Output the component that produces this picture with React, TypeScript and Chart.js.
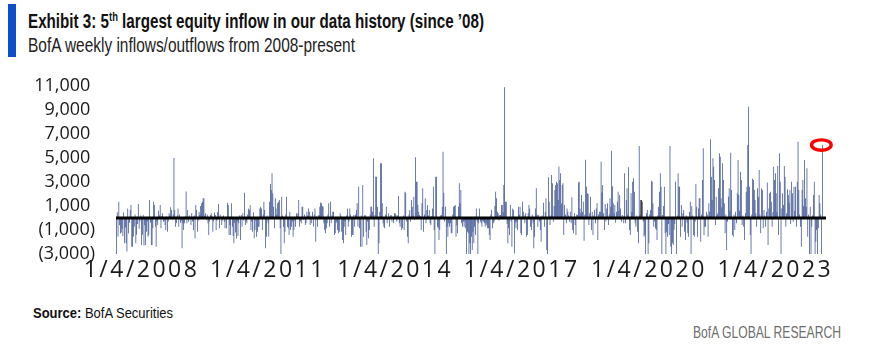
import React, { useEffect, useLayoutEffect, useRef } from 'react';
import { Chart, registerables } from 'chart.js';

Chart.register(...registerables);

// Weekly BofA equity flows, grouped by calendar year
const flows2007 = [-3400, 470, -1550, 1360, -600, -1300, -1200, -900, -1500, 450, -2100, -800, -2100, -2800, 800, -1300, -400, 670, 1080, -2400, -2400, -1550, -700, 300, -2100, -1400, -500, 1170, -900, -300, 200];
const flows2008 = [-2250, -1400, 250, -2300, -600, -2250, -1140, -300, -1560, -1420, 1500, -400, -2250, -2250, -860, 1360, 1080, -720, -2400, -300, -580, 610, 200, 1080, -860, 150, 390, -310, -200, -580, -1000, 100, -1140, -300, 390, 200, 890, 670, -150, 300, 5000, 670, -720, -440, 200, 800, -720, 300, -400, -200, -2530, -440];
const flows2009 = [-1000, -440, 150, 2200, -440, 670, -310, 200, -100, -580, 390, -300, -1000, 200, -1700, 1080, 670, -1140, -200, 530, 300, 1000, 1220, 1360, 1640, 1640, 200, 400, -170, 300, -440, -1420, -300, 250, 390, 150, -1140, -300, 450, 250, -1000, -200, 500, 1170, -860, 300, 110, -580, -200, 200, -310, -860, -150];
const flows2010 = [-860, 1280, 1080, -1420, -600, -1420, 1220, -720, -1500, -2100, -400, -1200, -1700, -300, -1500, -440, 200, -1830, 250, -720, 390, -200, 2100, -580, -300, -440, 300, 800, 670, 1080, -1000, -300, -1140, 470, -1690, -1000, -200, -1560, -1140, -720, -720, 800, 940, 800, -1000, 300, 1360, 670, -2530, -1560, 200, -400];
const flows2011 = [-1560, 1360, 2830, 2330, 3720, 2060, 940, -860, 1640, 800, 300, 1220, 1360, 1500, -860, -3400, 1780, 200, -720, -2110, -1140, 300, 1780, -720, -860, -1420, 530, -1000, -720, -300, -1560, -1000, -200, -720, 390, 200, 390, 1500, -720, -300, -440, 940, 940, -170, 300, -580, -440, 530, 200, 800, 530, -580];
const flows2012 = [200, -440, 530, -720, 300, 800, -1970, 110, -720, 200, 250, 940, 1300, 1220, 1000, 940, -440, -1000, -1280, -860, -440, 300, 1220, -720, 1360, -440, 200, 530, 530, -1420, -1280, -440, -300, -1000, -1280, -1140, 390, 200, -1140, -1830, -2110, -720, -300, -1420, 200, 800, -720, -300, 800, 300, -1560, -1420];
const flows2013 = [-1420, 250, -720, 300, 670, 1220, -720, 2610, -860, -2390, 200, -2390, 2750, -1560, 200, 250, -1140, -2250, -300, -1690, -1000, 300, 940, 940, 530, 4970, -720, 250, 3440, 3440, 940, -3400, -2110, 530, 4560, 4560, 1220, -440, -720, -860, 300, 940, -440, -170, 390, -720, 200, 250, -310, 110, -440, 390];
const flows2014 = [390, 250, -310, 200, 1830, -440, -720, 100, -1000, -860, 200, -1000, 2190, 2100, -300, -1560, -2110, 300, 670, -300, 1500, 940, 200, 1780, -170, 5060, 3030, 3030, 1080, 530, 250, 150, -1000, 1220, 2470, -1140, 300, 1640, -440, 670, 1080, 200, 670, -440, -580, 150, 800, 2610, -1000, -3400, 3440, 3440];
const flows2015 = [-720, -860, -1830, -1000, 200, 250, 940, 5530, 2100, -300, 940, -3400, -720, -1560, -440, -720, -440, -1280, -1280, 300, 940, 1000, 1080, -1560, -600, -1280, 940, 2890, 1220, 2330, -440, -720, -310, -720, -300, -860, -3400, -1140, -1280, -3400, -2110, -3400, -1560, -2670, -1140, -2110, -720, -1420, 800, -300, -3400, -440];
const flows2016 = [800, -300, -440, -720, -200, -310, -440, -720, -440, -600, -860, -860, -1420, -1830, 300, 670, -860, -440, -300, 1000, 2190, 1640, 530, 390, -200, 250, 250, 1080, 1080, 500, 2750, 10890, 1360, 1360, -500, -2110, -860, -1420, 1080, -300, -2390, 800, 670, -2950, -400, -860, -300, -1000, 940, 300, 940, -1280];
const flows2017 = [-1420, 1360, 530, 200, -440, 390, -1560, -1420, 400, 1080, 800, -720, -1000, 300, -440, -2530, -1560, 800, 2470, 300, -720, 250, -300, -1000, -1970, 200, 110, 1280, -720, 500, 1640, -2670, -3400, 3400, 1360, -580, 200, 3580, 2890, -310, 1000, 2330, 2750, 3030, 2890, 1500, 4300, 3170, 3720, 1200, 2750, 2890, -1420];
const flows2018 = [1080, 300, -440, 800, 530, 200, -310, 530, -440, 1720, -1000, -1280, 390, -580, -1420, 300, 250, 2950, 3030, 800, 400, 1920, 530, 1360, -1900, 300, 4860, 2610, 2060, 2000, -580, 400, 1780, -1000, 530, -1420, 200, 670, -440, 800, 1220, -1830, 300, 530, 530, 4690, 2130, 2750, 400, -1000, 1170, -300];
const flows2019 = [800, 1220, -580, 300, 1640, 940, 5610, 2650, 1220, 400, 1080, -390, 530, 1360, 2190, 600, 1920, 800, -310, 250, 200, -440, 3720, -440, 1500, 2470, 300, 4220, -1000, -1420, 2060, 500, 3030, 3310, 2190, -440, -720, 200, -1140, -2110, 6000, 300, 1500, 1500, 1360, -300, -1560, -1420, -3400, 400, 670, -3400];
const flows2020 = [-2110, 300, 670, 3100, 3030, 1220, -720, -300, -860, -1000, -1830, 200, 940, 2190, 3720, 2610, -3400, 250, 1000, 2610, -1280, -3400, -1140, -1560, -500, -1420, 6000, -2390, -3400, -2110, -2250, -1000, -500, 3030, -3400, 200, 3720, 2610, 2610, -1560, 1080, -720, 400, 670, -1140, -1830, 200, -400, -1280, -1560, 500, 1360];
const flows2021 = [-3400, 1000, 200, -1420, -1560, -310, 2830, 940, -1560, 800, 1640, 1640, -1970, 300, 3170, 5810, -1420, -720, -720, 530, 300, -1560, 1220, 530, 6560, 3440, 1500, 4970, 4280, 3170, -580, 1780, 250, 400, 2470, 5390, 5110, 1640, 900, 4560, 3170, 1220, -1280, 300, -2670, -310, 1780, 2470, 600, 5440, 2330, -1420, -1560];
const flows2022 = [300, -1000, 530, -440, 2060, 4830, 1920, 600, 3860, 3170, -580, 200, -720, -1830, 390, 2190, 2610, 6080, 9280, 2610, -1420, -3400, 300, 3280, 3170, 2330, 1500, 400, -720, 2470, 1780, 4000, 300, -1280, 2470, 2330, -860, 670, 200, -720, 530, 2950, -2250, 800, 2060, 2190, 1360, -720, 500, 4280, 3170, 3720];
const flows2023 = [2060, 500, 4330, -1420, 5390, 3030, -3400, 800, 2060, 1080, 4330, 3440, -720, 400, 2390, 1920, 1280, 2330, -500, 3030, 2060, -310, 2610, 600, 2610, -720, 3030, 6360, 2330, 300, -720, -2390, 2330, 3170, 1000, 4830, 1640, 940, 4140, -1560, 300, -3400, 940, -3400, -720, 200, 1920, 3030, -3400, -1970, -1000, -3400];
const flows2024 = [-860, 1920, 1220, 300, -3400, 6080];

const weeklyFlows = [
  ...flows2007, ...flows2008, ...flows2009, ...flows2010, ...flows2011, ...flows2012,
  ...flows2013, ...flows2014, ...flows2015, ...flows2016, ...flows2017, ...flows2018,
  ...flows2019, ...flows2020, ...flows2021, ...flows2022, ...flows2023, ...flows2024,
];

// Category axis: weekly dates (Fridays); the axis runs a few weeks past the last reading
const firstWeekUTC = Date.UTC(2007, 5, 1);
const trailingWeeks = 4;
const DAY = 86400000;
const weekStarts = Array.from({ length: weeklyFlows.length + trailingWeeks }, (_, i) => firstWeekUTC + i * 7 * DAY);
const weekLabels = weekStarts.map((t) => {
  const d = new Date(t);
  return `${d.getUTCMonth() + 1}/${d.getUTCDate()}/${d.getUTCFullYear()}`;
});

const tickYears = [2008, 2011, 2014, 2017, 2020, 2023];
const yTicks = [-3000, -1000, 1000, 3000, 5000, 7000, 9000, 11000];
const highlightWeeks = ['10/25/2019', '11/1/2019'];

const barBlue = '#2a4288';

function weekOfJan4(year: number) {
  const t = Date.UTC(year, 0, 4);
  return weekStarts.findIndex((s) => s <= t && t < s + 7 * DAY);
}

function FitText(props: any) {
  const { x, baseline, width, size, weight, color, family, children } = props;
  const ref = useRef<HTMLDivElement>(null);
  useLayoutEffect(() => {
    const el = ref.current;
    if (!el) return;
    el.style.transform = 'none';
    const w = el.getBoundingClientRect().width;
    if (w > 0) el.style.transform = `scaleX(${width / w})`;
  }, [width]);
  return (
    <div
      ref={ref}
      style={{
        position: 'absolute',
        left: x,
        top: baseline - 0.85 * size,
        fontSize: size,
        lineHeight: `${size}px`,
        fontWeight: weight || 400,
        color: color || '#111',
        fontFamily: family || "'Liberation Sans Narrow', 'Liberation Sans', Arial, sans-serif",
        whiteSpace: 'nowrap',
        transformOrigin: '0 0',
      }}
    >
      {children}
    </div>
  );
}

export default function App() {
  const canvasRef = useRef<HTMLCanvasElement>(null);

  useEffect(() => {
    const canvas = canvasRef.current;
    if (!canvas) return;
    const tickIdx = new Map<number, number>();
    tickYears.forEach((y) => tickIdx.set(weekOfJan4(y), y));
    const highlight = new Set(highlightWeeks);

    const overlay = {
      id: 'overlay',
      afterDatasetsDraw(chart: any) {
        const { ctx, chartArea, scales } = chart;
        const y0 = scales.y.getPixelForValue(0);
        ctx.save();
        ctx.strokeStyle = '#000';
        ctx.lineWidth = 3;
        ctx.beginPath();
        ctx.moveTo(chartArea.left, y0);
        ctx.lineTo(chartArea.right, y0);
        ctx.stroke();
        const last = weeklyFlows.length - 1;
        const cx = scales.x.getPixelForValue(last) - 1;
        const cy = scales.y.getPixelForValue(weeklyFlows[last]);
        ctx.strokeStyle = '#ff0000';
        ctx.lineWidth = 3.4;
        ctx.beginPath();
        ctx.ellipse(cx, cy, 9.8, 5.2, 0, 0, Math.PI * 2);
        ctx.stroke();
        ctx.restore();
        (ctx as any).letterSpacing = '2.5px';
      },
      afterDraw(chart: any) {
        (chart.ctx as any).letterSpacing = '0px';
      },
    };

    const chart = new Chart(canvas, {
      type: 'bar',
      data: {
        labels: weekLabels,
        datasets: [
          {
            data: weeklyFlows,
            backgroundColor: (c: any) => (highlight.has(weekLabels[c.dataIndex]) ? '#000000' : barBlue),
            borderWidth: 0,
            barPercentage: 0.85,
            categoryPercentage: 1,
          },
        ],
      },
      options: {
        responsive: false,
        animation: false,
        events: [],
        layout: { padding: { left: 0, right: 44, top: 86, bottom: 10 } },
        plugins: { legend: { display: false }, tooltip: { enabled: false }, title: { display: false } },
        scales: {
          x: {
            type: 'category',
            offset: true,
            grid: { display: false, drawTicks: false },
            border: { display: false },
            afterBuildTicks: (axis: any) => {
              axis.ticks = axis.ticks.filter((t: any) => tickIdx.has(t.value));
            },
            afterFit: (axis: any) => {
              axis.height = 36;
            },
            ticks: {
              autoSkip: false,
              maxRotation: 0,
              minRotation: 0,
              padding: 3,
              z: 1,
              color: '#1a1a1a',
              font: { family: "'Open Sans', sans-serif", size: 23 },
              callback: (value: any) => `1/4/${tickIdx.get(Number(value))}`,
            },
          },
          y: {
            min: yTicks[0],
            max: yTicks[yTicks.length - 1],
            grid: { display: false, drawTicks: false },
            border: { display: false },
            afterBuildTicks: (axis: any) => {
              axis.ticks = yTicks.map((v) => ({ value: v }));
            },
            afterFit: (axis: any) => {
              axis.width = 116;
            },
            ticks: {
              autoSkip: false,
              padding: 21,
              color: '#1a1a1a',
              font: { family: "'Open Sans', sans-serif", size: 18 },
              callback: (value: any) => {
                const v = Number(value);
                const s = Math.abs(v).toLocaleString('en-US');
                return v < 0 ? `(${s})` : `${s}\u2008`;
              },
            },
          },
        },
      },
      plugins: [overlay],
    } as any);

    return () => chart.destroy();
  }, []);

  return (
    <div style={{ position: 'fixed', left: 0, top: 0, width: 870, height: 351, background: '#fff', overflow: 'hidden' }}>
      <div style={{ position: 'absolute', left: 8, top: 4, width: 8, height: 53, background: '#0b50c8' }} />
      <FitText x={28} baseline={28} width={456} size={20} weight={700} color="#111">
        Exhibit 3: 5<sup style={{ fontSize: '0.62em', lineHeight: 0, verticalAlign: '0.55em' }}>th</sup> largest equity inflow in our data history (since ’08)
      </FitText>
      <FitText x={28} baseline={52} width={327} size={21} weight={400} color="#222">
        BofA weekly inflows/outflows from 2008-present
      </FitText>
      <canvas ref={canvasRef} width={870} height={300} style={{ position: 'absolute', left: 0, top: 0, width: 870, height: 300 }} />
      <FitText x={33} baseline={318} width={140} size={15} weight={400} color="#111">
        <span style={{ fontWeight: 700 }}>Source:</span> BofA Securities
      </FitText>
      <FitText x={693} baseline={338.5} width={148} size={16} weight={400} color="#6e6e6e">
        BofA GLOBAL RESEARCH
      </FitText>
    </div>
  );
}
